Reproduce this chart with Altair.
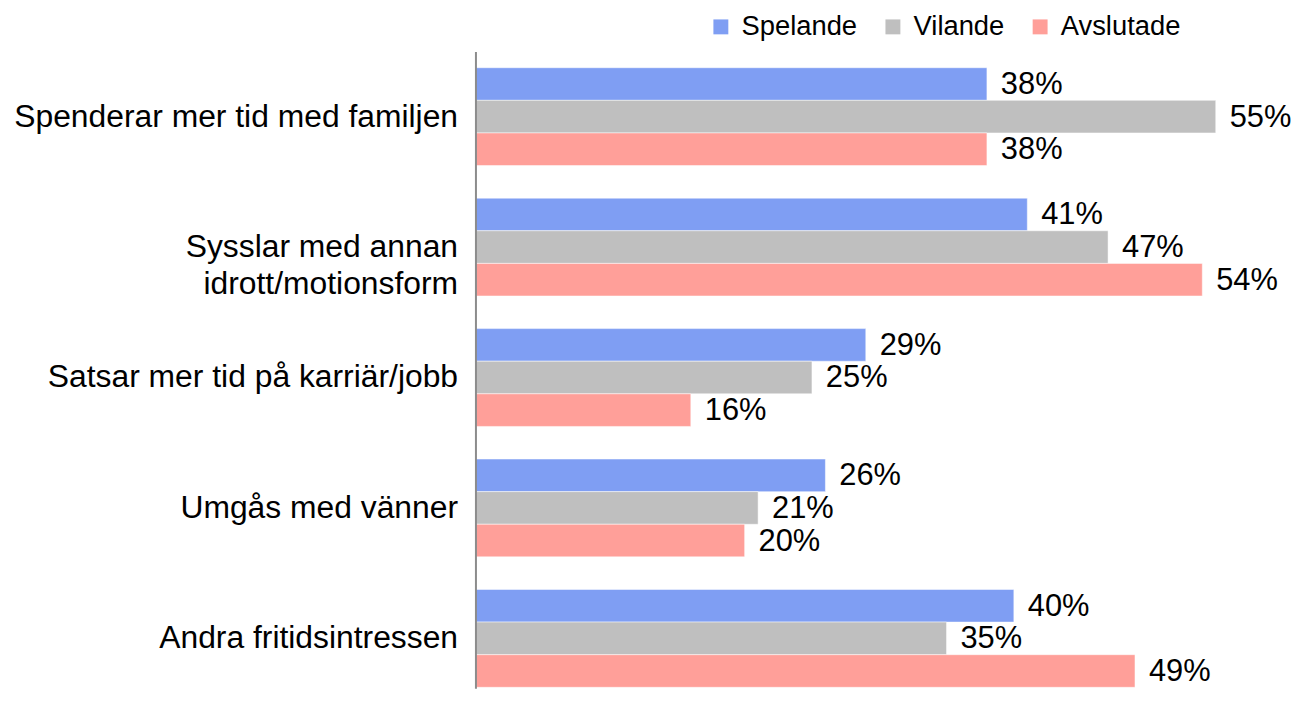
import altair as alt
import pandas as pd

categories = [
    "Spenderar mer tid med familjen",
    "Sysslar med annan|idrott/motionsform\u00a0",
    "Satsar mer tid på karriär/jobb",
    "Umgås med vänner",
    "Andra fritidsintressen",
]
series = ["Spelande", "Vilande", "Avslutade"]
spelande = [38, 41, 29, 26, 40]
vilande = [55, 47, 25, 21, 35]
avslutade = [38, 54, 16, 20, 49]
colors = ["#7F9EF3", "#BFBFBF", "#FF9F99"]

rows = []
for s, vals in zip(series, [spelande, vilande, avslutade]):
    for c, v in zip(categories, vals):
        rows.append({"cat": c, "serie": s, "value": v, "label": f"{v}%"})
df = pd.DataFrame(rows)

FONT = "Liberation Sans"

y_enc = alt.Y(
    "cat:N",
    sort=categories,
    scale=alt.Scale(paddingInner=0.25, paddingOuter=0.065, align=0.95),
    axis=alt.Axis(
        title=None,
        ticks=False,
        labelPadding=18,
        labelFontSize=32,
        labelFont=FONT,
        labelColor="black",
        labelLimit=0,
        labelLineHeight=37,
        labelExpr="split(datum.label, '|')",
        domainColor="#8c8c8c",
        domainWidth=2,
        grid=False,
        zindex=1,
    ),
)
yoff = alt.YOffset("serie:N", sort=series, scale=alt.Scale(paddingInner=0, paddingOuter=0))
x_enc = alt.X("value:Q", scale=alt.Scale(domain=[0, 60], nice=False), axis=None)

bars = alt.Chart(df).mark_bar(stroke="white", strokeWidth=0.5).encode(
    x=x_enc,
    y=y_enc,
    yOffset=yoff,
    color=alt.Color(
        "serie:N",
        sort=series,
        scale=alt.Scale(domain=series, range=colors),
        legend=alt.Legend(
            title=None,
            orient="none",
            direction="horizontal",
            legendX=233,
            legendY=-39,
            symbolType="square",
            symbolSize=225,
            symbolStrokeWidth=0,
            symbolOpacity=1,
            labelFontSize=27.5,
            labelFont=FONT,
            labelColor="black",
            labelOffset=7,
            columnPadding=22,
            padding=0,
        ),
    ),
)

texts = alt.Chart(df).mark_text(
    align="left", baseline="middle", dx=14, dy=1, fontSize=31, font=FONT, color="black"
).encode(
    x=x_enc,
    y=alt.Y("cat:N", sort=categories),
    yOffset=yoff,
    text="label:N",
)

chart = (
    alt.layer(bars, texts, view=alt.ViewBackground(stroke=None, strokeWidth=0))
    .properties(
        width=812,
        height=640,
        autosize=alt.AutoSizeParams(type="none"),
        padding={"left": 470, "top": 42, "right": 8, "bottom": 0},
    )
    .configure_view(strokeWidth=0, stroke=None)
    .configure(background="white")
)

chart.save("out.html", embed_options={"renderer": "svg", "actions": False})
